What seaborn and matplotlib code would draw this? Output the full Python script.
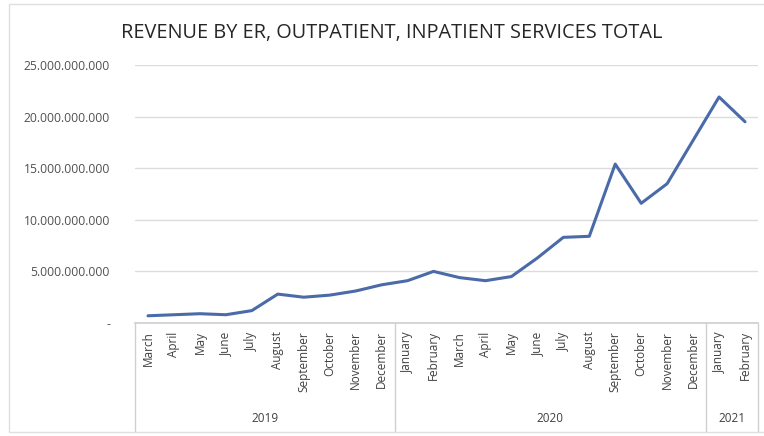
import numpy as np
import pandas as pd
import seaborn as sns
import matplotlib.pyplot as plt
from matplotlib.patches import Rectangle

# Chart data
months = ["March", "April", "May", "June", "July", "August", "September",
          "October", "November", "December",
          "January", "February", "March", "April", "May", "June", "July",
          "August", "September", "October", "November", "December",
          "January", "February"]
years = ["2019"] * 10 + ["2020"] * 12 + ["2021"] * 2
revenue = [0.7e9, 0.8e9, 0.9e9, 0.8e9, 1.2e9, 2.8e9, 2.5e9, 2.7e9, 3.1e9, 3.7e9,
           4.1e9, 5.0e9, 4.4e9, 4.1e9, 4.5e9, 6.3e9, 8.3e9, 8.4e9, 15.4e9,
           11.6e9, 13.5e9, 17.7e9, 21.9e9, 19.5e9]
y_ticks = [0, 5e9, 10e9, 15e9, 20e9, 25e9]

df = pd.DataFrame({"pos": np.arange(len(months)), "month": months,
                   "year": years, "revenue": revenue})

sns.set_theme(style="white")
plt.rcParams["font.family"] = ["Open Sans", "DejaVu Sans"]

fig = plt.figure(figsize=(7.64, 4.36), dpi=100)
ax = fig.add_axes([135 / 764, 1 - 323 / 436, (758 - 135) / 764, (323 - 65) / 436])

sns.lineplot(data=df, x="pos", y="revenue", ax=ax, color="#4a6aa8", linewidth=2.2)

ax.set_xlim(-0.5, len(months) - 0.5)
ax.set_ylim(0, 25e9)
ax.set_yticks(y_ticks)
ax.set_yticklabels(["-" if v == 0 else f"{int(v):,}".replace(",", ".") for v in y_ticks],
                   fontsize=8.7, color="#505050")
ax.yaxis.grid(True, color="#dcdcdc", linewidth=1)
ax.tick_params(axis="y", length=0, pad=18)

ax.set_xticks(df["pos"])
ax.set_xticklabels(months, rotation=90, fontsize=8.5, color="#404040", va="top")
ax.tick_params(axis="x", length=0, pad=6)
ax.set_xlabel("")
ax.set_ylabel("")

for s in ["top", "right", "left"]:
    ax.spines[s].set_visible(False)
ax.spines["bottom"].set_color("#d0d0d0")

# Year grouping under the month labels
trans = ax.get_xaxis_transform()
bottom = -(432 - 323) / (323 - 65)
bounds = [-0.5]
for i in range(1, len(years)):
    if years[i] != years[i - 1]:
        bounds.append(i - 0.5)
bounds.append(len(years) - 0.5)
for b in bounds:
    ax.plot([b, b], [0, bottom], transform=trans, color="#d0d0d0",
            linewidth=1, clip_on=False)
for lo, hi in zip(bounds[:-1], bounds[1:]):
    yr = years[int(lo + 0.5)]
    ax.text((lo + hi) / 2, -(418 - 323) / (323 - 65), yr, transform=trans,
            ha="center", va="center", fontsize=8.5, color="#404040")

fig.text(0.513, 1 - 33 / 436, "REVENUE BY ER, OUTPATIENT, INPATIENT SERVICES TOTAL",
         ha="center", va="center", fontsize=14.3, color="#262626")

fig.patches.append(Rectangle((9 / 764, 4 / 436), 1, 1 - 8 / 436,
                             transform=fig.transFigure, fill=False,
                             edgecolor="#e0e0e0", linewidth=1))

fig.savefig("out.png", dpi=100)
